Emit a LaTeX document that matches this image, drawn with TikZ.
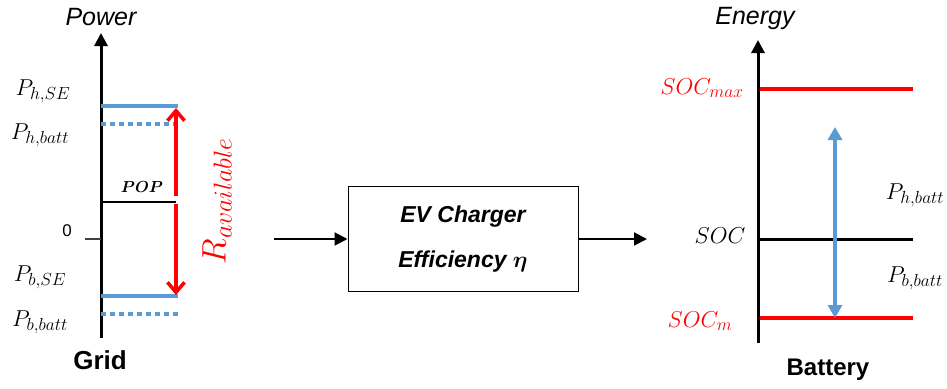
\RequirePackage{fix-cm}
\documentclass[tikz,border=0pt]{standalone}
\usepackage{amsmath}
\usepackage{fontspec}
\setsansfont{Liberation Sans}
\usetikzlibrary{arrows.meta}
\makeatletter
\def\defaultscriptratio{.76}
\makeatother
\definecolor{lblue}{RGB}{91,155,213}
\definecolor{tickgray}{RGB}{64,64,64}
\tikzset{
  axisline/.style={line width=3pt, -{Triangle[length=13pt,width=13pt]}},
  blueline/.style={lblue, line width=3.5pt},
  bluedot/.style={lblue, line width=3.5pt, dash pattern=on 5pt off 4pt},
  redline/.style={red, line width=3.5pt},
  redarrow/.style={red, line width=3.5pt, -{Straight Barb[length=10pt,width=17pt,line width=3.5pt]}},
  flow/.style={line width=2pt, -{Triangle[length=13pt,width=13pt]}},
  mlabel/.style={font=\fontsize{23}{26}\selectfont, inner sep=0pt},
  axtitle/.style={font=\sffamily\itshape\fontsize{25}{27}\selectfont, inner sep=0pt},
  bottitle/.style={font=\sffamily\bfseries\fontsize{24}{26}\selectfont, inner sep=0pt},
  chargerbox/.style={draw, line width=1pt, minimum width=230pt, minimum height=105pt,
    align=center, font=\sffamily\bfseries\itshape\fontsize{23}{45}\selectfont}
}
\begin{document}
\begin{tikzpicture}[x=1pt,y=-1pt]
\useasboundingbox (0,0) rectangle (947,388);
% ---------- Grid side ----------
\coordinate (gb) at (101,338);
\coordinate (gt) at (101,33);
\draw[axisline] (gb) -- (gt);
\node[axtitle] (power) at (101,17) {Power};
\node[bottitle, font=\sffamily\bfseries\fontsize{26}{28}\selectfont] (grid) at (100,360) {Grid};

\coordinate (hse0) at (101,106); \coordinate (hse1) at (178,106);
\coordinate (hb0) at (101,124);  \coordinate (hb1) at (178,124);
\coordinate (pop0) at (101,202); \coordinate (pop1) at (176,202);
\coordinate (bse0) at (101,296); \coordinate (bse1) at (178,296);
\coordinate (bb0) at (101,314);  \coordinate (bb1) at (178,314);
\coordinate (tick0) at (85,239); \coordinate (tick1) at (101,239);

\draw[blueline] (hse0) -- (hse1);
\draw[bluedot] (hb0) -- (hb1);
\draw[line width=2pt] (pop0) -- (pop1);
\draw[blueline] (bse0) -- (bse1);
\draw[bluedot] (bb0) -- (bb1);
\draw[tickgray, line width=1.5pt] (tick0) -- (tick1);

\coordinate (ra0) at (176,196); \coordinate (ra1) at (176,108);
\coordinate (rb0) at (176,204); \coordinate (rb1) at (176,295);
\draw[redarrow] (ra0) -- (ra1);
\draw[redarrow] (rb0) -- (rb1);
\node[red, rotate=90, inner sep=0pt, font=\fontsize{34}{38}\selectfont] (ravail) at (217,201) {$R_{available}$};

\node[mlabel] (phse) at (43,91) {$P_{h,SE}$};
\node[mlabel] (phb) at (40,135) {$P_{h,batt}$};
\node[mlabel] (pbse) at (40,277) {$P_{b,SE}$};
\node[mlabel] (pbb) at (40,322) {$P_{b,batt}$};
\node[inner sep=0pt, font=\sffamily\fontsize{17}{19}\selectfont] (zero) at (67,231) {0};
\node[inner sep=0pt, font=\fontsize{16}{18}\selectfont] (pop) at (142,187) {$\boldsymbol{POP}$};

% ---------- Charger ----------
\node[chargerbox] (box) at (463,239) {EV Charger\\Efficiency $\boldsymbol{\eta}$};
\coordinate (in) at (274,239);
\coordinate (out) at (647,239);
\draw[flow] (in) -- (box.west);
\draw[flow] (box.east) -- (out);

% ---------- Battery side ----------
\coordinate (bab) at (758,343);
\coordinate (bat) at (758,40);
\draw[axisline] (bab) -- (bat);
\node[axtitle] (energy) at (755,18) {Energy};
\node[bottitle] (battery) at (828,370) {Battery};

\coordinate (smax0) at (760,89);  \coordinate (smax1) at (913,89);
\coordinate (soc0) at (760,239);  \coordinate (soc1) at (913,239);
\coordinate (smin0) at (760,318); \coordinate (smin1) at (913,318);
\draw[redline] (smax0) -- (smax1);
\draw[line width=3pt] (soc0) -- (soc1);
\draw[redline] (smin0) -- (smin1);

\coordinate (ba0) at (835,127); \coordinate (ba1) at (835,318);
\draw[lblue, line width=3.5pt, {Triangle[length=13pt,width=14pt]}-{Triangle[length=13pt,width=14pt]}] (ba1) -- (ba0);

\node[mlabel, red] (socmax) at (702,88) {$SOC_{max}$};
\node[mlabel] (soc) at (720,236) {$SOC$};
\node[mlabel, red] (socm) at (700,321) {$SOC_{m}$};
\node[mlabel] (phb2) at (915,195) {$P_{h,batt}$};
\node[mlabel] (pbb2) at (915,278) {$P_{b,batt}$};
\end{tikzpicture}
\end{document}
